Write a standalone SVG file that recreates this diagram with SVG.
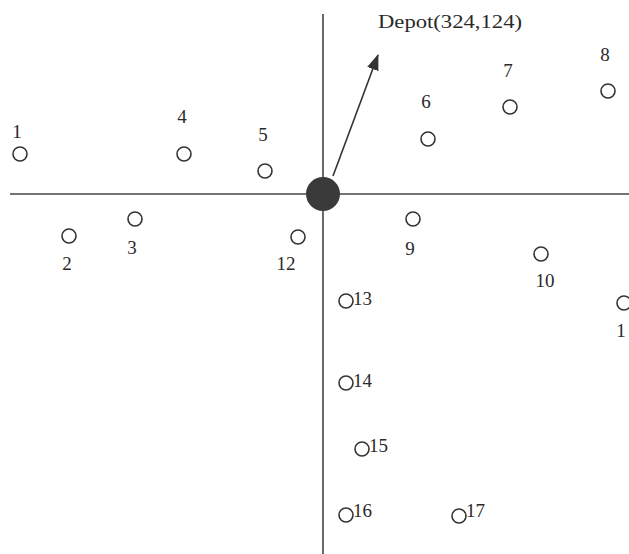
<svg xmlns="http://www.w3.org/2000/svg" width="629" height="554" viewBox="0 0 629 554">
  <style>
    .pt { fill: #fff; stroke: #333; stroke-width: 1.6; }
    .lbl { font-family: "Liberation Serif", "Times New Roman", serif; font-size: 19px; fill: #2a2a2a; text-anchor: middle; }
    .lbls { font-family: "Liberation Serif", "Times New Roman", serif; font-size: 19px; fill: #2a2a2a; }
    .axis { stroke: #444; stroke-width: 1.6; fill: none; }
  </style>
  <defs>
    <marker id="arrowBig" viewBox="0 0 16 12" refX="15" refY="6" markerWidth="16" markerHeight="12" markerUnits="userSpaceOnUse" orient="auto">
      <path d="M0,0 L16,6 L0,12 Z" fill="#333"/>
    </marker>
  </defs>
  <rect width="629" height="554" fill="#fff"/>
  <g id="axes">
    <line class="axis" x1="323" y1="14" x2="323" y2="554"/>
    <line class="axis" x1="10" y1="194" x2="629" y2="194"/>
  </g>
  <g id="connectors">
    <line x1="333" y1="176" x2="378" y2="55" stroke="#333" stroke-width="1.6" marker-end="url(#arrowBig)"/>
  </g>
  <g id="depot">
    <ellipse cx="323" cy="194" rx="17" ry="17" fill="#3a3a3a"/>
    <text class="lbls" x="378" y="28" textLength="144" lengthAdjust="spacingAndGlyphs">Depot(324,124)</text>
  </g>
  <g id="n1"><circle class="pt" cx="20" cy="154" r="7"/><text class="lbl" x="17" y="138">1</text></g>
  <g id="n2"><circle class="pt" cx="69" cy="236" r="7"/><text class="lbl" x="67" y="270">2</text></g>
  <g id="n3"><circle class="pt" cx="135" cy="219" r="7"/><text class="lbl" x="132" y="254">3</text></g>
  <g id="n4"><circle class="pt" cx="184" cy="154" r="7"/><text class="lbl" x="182" y="123">4</text></g>
  <g id="n5"><circle class="pt" cx="265" cy="171" r="7"/><text class="lbl" x="263" y="141">5</text></g>
  <g id="n6"><circle class="pt" cx="428" cy="139" r="7"/><text class="lbl" x="426" y="108">6</text></g>
  <g id="n7"><circle class="pt" cx="510" cy="107" r="7"/><text class="lbl" x="508" y="77">7</text></g>
  <g id="n8"><circle class="pt" cx="608" cy="91" r="7"/><text class="lbl" x="605" y="61">8</text></g>
  <g id="n9"><circle class="pt" cx="413" cy="219" r="7"/><text class="lbl" x="410" y="255">9</text></g>
  <g id="n10"><circle class="pt" cx="541" cy="254" r="7"/><text class="lbl" x="545" y="287">10</text></g>
  <g id="n11"><circle class="pt" cx="624" cy="303" r="7"/><text class="lbl" x="621" y="337">1</text></g>
  <g id="n12"><circle class="pt" cx="298" cy="237" r="7"/><text class="lbl" x="286" y="270">12</text></g>
  <g id="n13"><circle class="pt" cx="346" cy="301" r="7"/><text class="lbls" x="353" y="305">13</text></g>
  <g id="n14"><circle class="pt" cx="346" cy="383" r="7"/><text class="lbls" x="353" y="387">14</text></g>
  <g id="n15"><circle class="pt" cx="362" cy="449" r="7"/><text class="lbls" x="369" y="452">15</text></g>
  <g id="n16"><circle class="pt" cx="346" cy="515" r="7"/><text class="lbls" x="353" y="517">16</text></g>
  <g id="n17"><circle class="pt" cx="459" cy="516" r="7"/><text class="lbls" x="466" y="517">17</text></g>
</svg>
